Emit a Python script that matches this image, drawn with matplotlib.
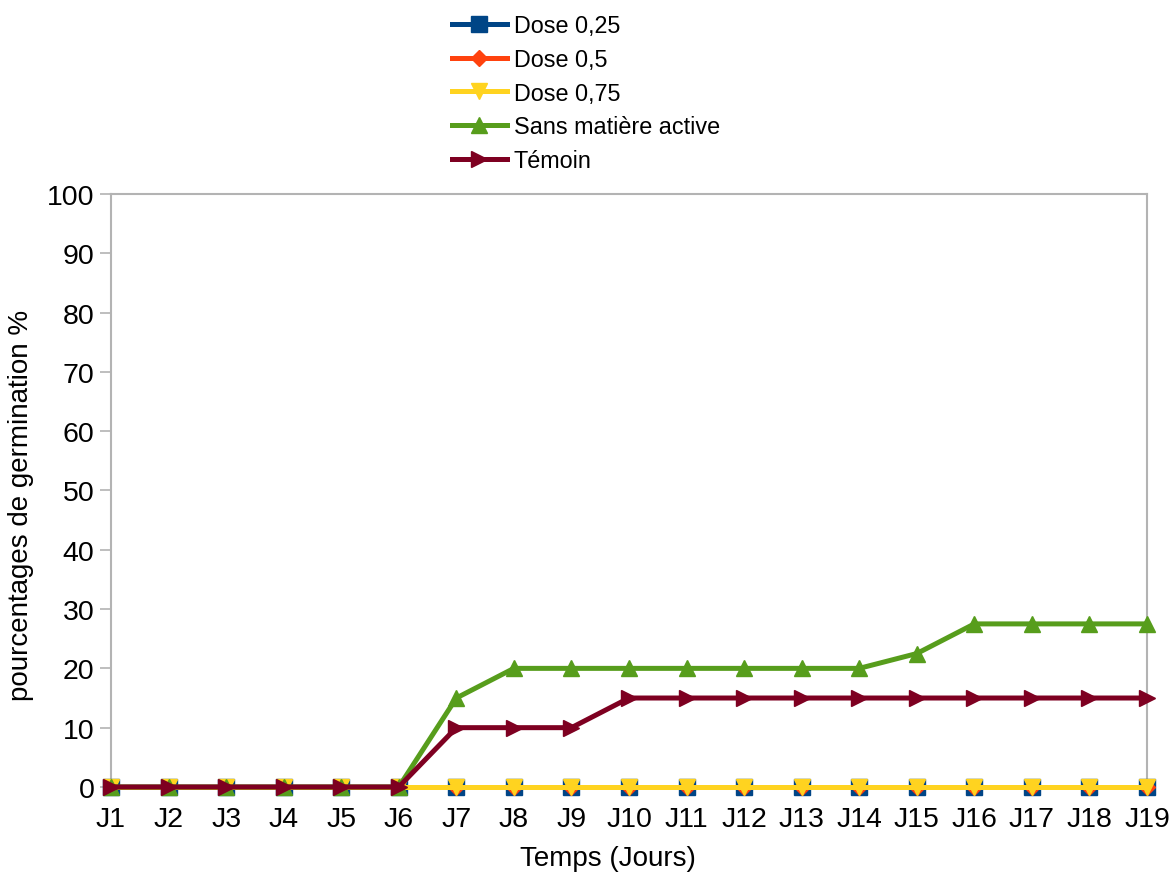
import matplotlib.pyplot as plt

plt.rcParams['font.family'] = ['Liberation Sans', 'DejaVu Sans']

jours = ['J%d' % i for i in range(1, 20)]
dose_025 = [0] * 19
dose_05 = [0] * 19
dose_075 = [0] * 19
sans_matiere = [0, 0, 0, 0, 0, 0, 15, 20, 20, 20, 20, 20, 20, 20, 22.5, 27.5, 27.5, 27.5, 27.5]
temoin = [0, 0, 0, 0, 0, 0, 10, 10, 10, 15, 15, 15, 15, 15, 15, 15, 15, 15, 15]

series = [
    ('Dose 0,25', dose_025, '#004586', 's'),
    ('Dose 0,5', dose_05, '#ff420e', 'D'),
    ('Dose 0,75', dose_075, '#ffd320', 'v'),
    ('Sans matière active', sans_matiere, '#579d1c', '^'),
    ('Témoin', temoin, '#7e0021', '>'),
]

fig = plt.figure(figsize=(11.71, 8.95), dpi=100)
ax = fig.add_axes([0.0948, 0.1196, 0.8847, 0.6625])

x = list(range(len(jours)))
for label, vals, color, marker in series:
    ms = 8.5 if marker == 'D' else 11
    ax.plot(x, vals, color=color, lw=3.6, marker=marker, ms=ms,
            mec=color, mfc=color, label=label, clip_on=False, zorder=3)

ax.set_xlim(0, 18)
ax.set_ylim(0, 100)
ax.set_yticks(range(0, 101, 10))
ax.set_xticks(x)
ax.set_xticklabels(jours)
ax.tick_params(axis='y', labelsize=20.5, length=8, color='#b3b3b3', width=1.2, pad=4)
ax.tick_params(axis='x', labelsize=20.5, length=0, pad=14)

for side in ['left', 'right', 'top', 'bottom']:
    ax.spines[side].set_color('#b3b3b3')
    ax.spines[side].set_linewidth(1.5)

ax.set_ylabel('pourcentages de germination %', fontsize=20)
ax.set_xlabel('Temps (Jours)', fontsize=20)
ax.xaxis.set_label_coords(0.48, -0.098)
ax.yaxis.set_label_coords(-0.074, 0.477)

fig.legend(loc='upper left', bbox_to_anchor=(0.373, 1.0), frameon=False,
           fontsize=16.8, handlelength=2.35, handletextpad=0.3, labelspacing=0.46,
           borderaxespad=0.25)

fig.savefig('out.png', dpi=100)
